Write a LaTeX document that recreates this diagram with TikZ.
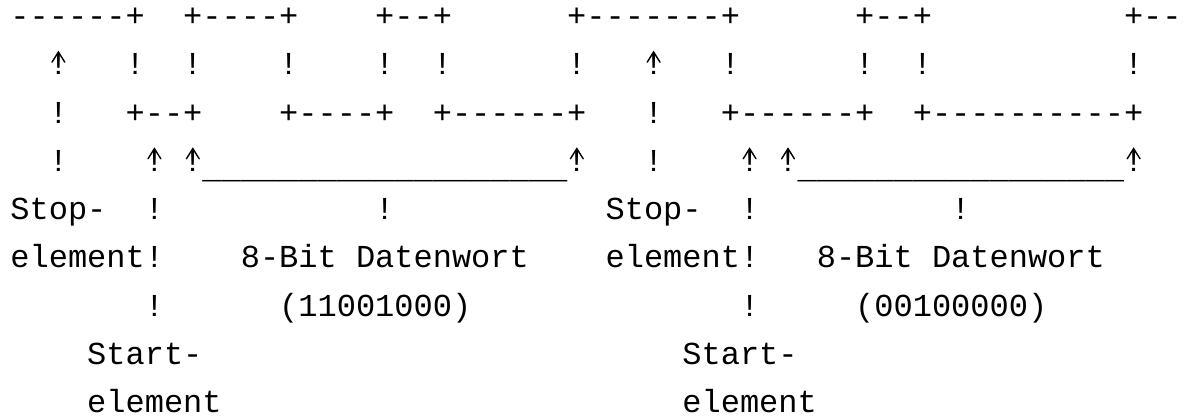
\documentclass[tikz,border=0pt]{standalone}
\usepackage{fontspec}
\setmonofont{Liberation Mono}
\usepackage{tikz}
\usetikzlibrary{positioning}

\newcommand{\underscores}[1]{\foreach \i in {1,...,#1}{\_}}

\begin{document}
\begin{tikzpicture}[
  x=9.6pt, y=24.15pt,
  ascii/.style = {inner sep=0pt, outer sep=0pt, anchor=base west,
                  font=\ttfamily\fontsize{16}{20}\selectfont},
  head/.style  = {line width=0.7pt, line cap=round},
]
\useasboundingbox (-5.2pt,13.25pt) rectangle ++(594pt,-208pt);

%% Signal line, top level
\foreach \c/\t in {0/{------+}, 9/{+----+}, 19/{+--+}, 29/{+-------+},
                   44/{+--+}, 58/{+--}}
  \node[ascii] (r1c\c) at (\c,0) {\t};

%% Edges
\foreach \c in {6,9,14,19,22,29,37,44,47,58}
  \node[ascii] (r2c\c) at (\c,-1) {!};

%% Signal line, bottom level
\foreach \c/\t in {2/!, 6/{+--+}, 14/{+----+}, 22/{+------+}, 33/!,
                   37/{+------+}, 47/{+----------+}}
  \node[ascii] (r3c\c) at (\c,-2) {\t};

%% Pointers and brackets
\foreach \c in {2,33}
  \node[ascii] (r4c\c) at (\c,-3) {!};
\node[ascii, yshift=-3.5pt] (word1) at (10,-3) {\underscores{19}};
\node[ascii, yshift=-3.5pt] (word2) at (41,-3) {\underscores{17}};

\foreach \r/\c in {2/2, 2/33, 4/7, 4/9, 4/29, 4/38, 4/40, 4/58} {
  \node[ascii] (arr\r-\c) at (\c,1-\r) {!};
  \draw[head] ([xshift=-3.2pt,yshift=6.3pt]arr\r-\c.base)
           -- ([yshift=11.4pt]arr\r-\c.base)
           -- ([xshift=3.2pt,yshift=6.3pt]arr\r-\c.base);
}

%% Labels
\foreach \c/\t in {0/{Stop-}, 7/!, 19/!, 31/{Stop-}, 38/!, 49/!}
  \node[ascii] (r5c\c) at (\c,-4) {\t};
\foreach \c/\t in {0/{element!}, 12/{8-Bit Datenwort}, 31/{element!},
                   42/{8-Bit Datenwort}}
  \node[ascii] (r6c\c) at (\c,-5) {\t};
\foreach \c/\t in {7/!, 14/{(11001000)}, 38/!, 44/{(00100000)}}
  \node[ascii] (r7c\c) at (\c,-6) {\t};
\foreach \c/\t in {4/{Start-}, 35/{Start-}}
  \node[ascii] (r8c\c) at (\c,-7) {\t};
\foreach \c/\t in {4/{element}, 35/{element}}
  \node[ascii] (r9c\c) at (\c,-8) {\t};

\end{tikzpicture}
\end{document}
